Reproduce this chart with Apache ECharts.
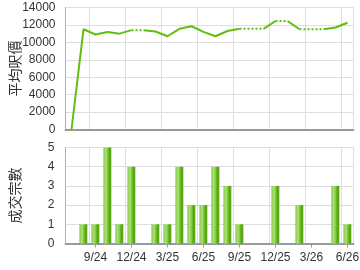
<!DOCTYPE html>
<html>
<head>
<meta charset="utf-8">
<script src="https://cdn.jsdelivr.net/npm/echarts@6/dist/echarts.min.js"></script>
<style>
  html, body { margin: 0; padding: 0; background: #fff; }
  #chart { width: 360px; height: 270px; }
</style>
</head>
<body>
<div id="chart"></div>
<script>
// months, 7/24 .. 6/26
const months = [
  '7/24', '8/24', '9/24', '10/24', '11/24', '12/24',
  '1/25', '2/25', '3/25', '4/25', '5/25', '6/25',
  '7/25', '8/25', '9/25', '10/25', '11/25', '12/25',
  '1/26', '2/26', '3/26', '4/26', '5/26', '6/26'
]
// average price per sq ft, null = no deals that month
const avgPrice = [
  0, 11500, 10900, 11200, 11000, 11400,
  null, 11250, 10700, 11550, 11850, 11200,
  10700, 11300, 11550, null, null, 12450,
  null, 11500, null, null, 11700, 12250
]
// number of deals
const dealCount = [
  0, 1, 1, 5, 1, 4,
  0, 1, 1, 4, 2, 2,
  4, 3, 1, 0, 0, 3,
  0, 2, 0, 0, 3, 1
]
const priceTicks = { min: 0, max: 14000, interval: 2000 }
const countTicks = { min: 0, max: 5, interval: 1 }

const LINE_GREEN = '#62bd10'
const GRID_GRAY = '#dedede'
const AXIS_GRAY = '#9a9a9a'
const FONT = '"Liberation Sans", Arial, sans-serif'
const CJK = '"Noto Sans CJK TC", "Noto Sans CJK SC", sans-serif'

// empty months carry the last price and are reached by a dotted step,
// the step into a month with deals is solid
const carried = []
avgPrice.forEach((v, i) => { carried[i] = v != null ? v : carried[i - 1] })

const runs = []
for (let i = 1; i < months.length; i++) {
  const dotted = avgPrice[i] == null
  const cur = runs[runs.length - 1]
  if (cur && cur.dotted === dotted && cur.to === i - 1) cur.to = i
  else runs.push({ dotted, from: i - 1, to: i })
}

const lineSeries = runs.map(run => ({
  type: 'line',
  xAxisIndex: 0,
  yAxisIndex: 0,
  data: months.map((m, k) => (k >= run.from && k <= run.to ? carried[k] : null)),
  showSymbol: false,
  silent: true,
  lineStyle: {
    width: 2,
    color: LINE_GREEN,
    type: run.dotted ? [2, 2] : 'solid'
  }
}))

const quarterly = (idx) => (idx - 2) % 3 === 0

const chart = echarts.init(document.getElementById('chart'))
chart.setOption({
  animation: false,
  grid: [
    { left: 65.5, right: 6.5, top: 7.5, height: 122, outerBoundsMode: 'none' },
    { left: 65.5, right: 6.5, top: 147.5, height: 96, outerBoundsMode: 'none' }
  ],
  xAxis: [
    {
      type: 'category',
      gridIndex: 0,
      data: months,
      axisLine: { lineStyle: { color: AXIS_GRAY, width: 2 } },
      axisTick: { show: false },
      axisLabel: { show: false },
      splitLine: { show: true, interval: quarterly, lineStyle: { color: GRID_GRAY } }
    },
    {
      type: 'category',
      gridIndex: 1,
      data: months,
      axisLine: { lineStyle: { color: AXIS_GRAY, width: 2 } },
      axisTick: { show: true, alignWithLabel: true, interval: quarterly, length: 4, lineStyle: { color: AXIS_GRAY } },
      axisLabel: { interval: quarterly, color: '#333', fontSize: 12, fontFamily: FONT, margin: 8 },
      splitLine: { show: true, interval: quarterly, lineStyle: { color: GRID_GRAY } }
    }
  ],
  yAxis: [
    {
      type: 'value',
      gridIndex: 0,
      ...priceTicks,
      name: '平均呎價',
      nameLocation: 'middle',
      nameGap: 44,
      nameMoveOverlap: false,
      nameTextStyle: { fontSize: 14, fontFamily: CJK, color: '#333' },
      axisLine: { show: true, lineStyle: { color: '#b0b0b0', width: 1 } },
      axisTick: { show: false },
      axisLabel: { color: '#333', fontSize: 12, fontFamily: FONT, margin: 10, formatter: v => String(v) },
      splitLine: { lineStyle: { color: GRID_GRAY } }
    },
    {
      type: 'value',
      gridIndex: 1,
      ...countTicks,
      name: '成交宗數',
      nameLocation: 'middle',
      nameGap: 44,
      nameMoveOverlap: false,
      nameTextStyle: { fontSize: 14, fontFamily: CJK, color: '#333' },
      axisLine: { show: true, lineStyle: { color: '#b0b0b0', width: 1 } },
      axisTick: { show: false },
      axisLabel: { color: '#333', fontSize: 12, fontFamily: FONT, margin: 11 },
      splitLine: { lineStyle: { color: GRID_GRAY } }
    }
  ],
  series: [
    ...lineSeries,
    {
      type: 'bar',
      xAxisIndex: 1,
      yAxisIndex: 1,
      data: dealCount,
      barWidth: 8,
      silent: true,
      itemStyle: {
        color: new echarts.graphic.LinearGradient(0, 0, 1, 0, [
          { offset: 0, color: '#6cbc24' },
          { offset: 0.2, color: '#aee07a' },
          { offset: 0.45, color: '#94d456' },
          { offset: 0.7, color: '#58ac10' },
          { offset: 0.85, color: '#4fa208' },
          { offset: 1, color: '#8ccc50' }
        ])
      }
    }
  ]
})
</script>
</body>
</html>
